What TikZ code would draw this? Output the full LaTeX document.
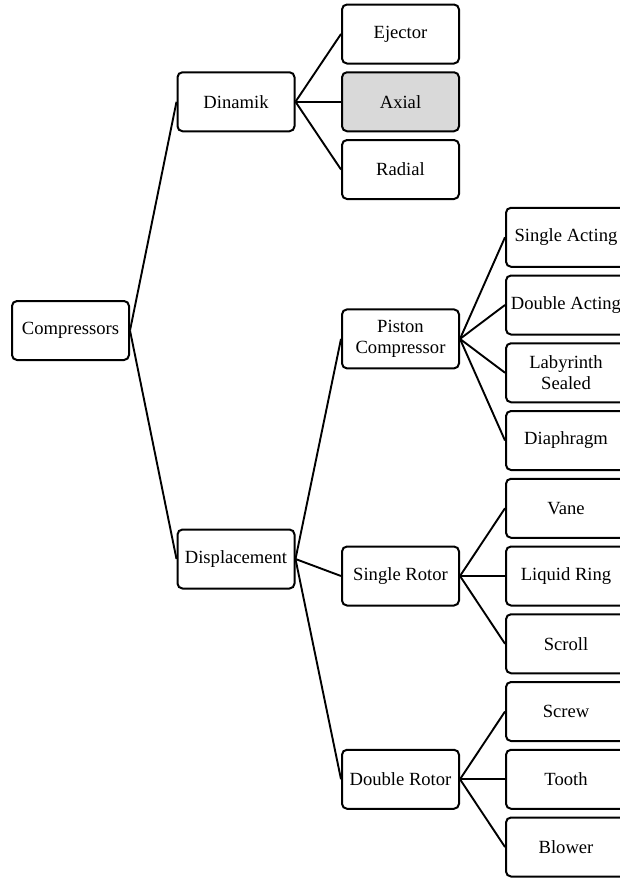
\documentclass[tikz,border=0pt]{standalone}
\usepackage{fontspec}
\setmainfont{Liberation Serif}
\usepackage{tikz}
\usetikzlibrary{positioning}

\tikzset{
	box/.style={draw,line width=1pt,rounded corners=2.5pt,fill=white,
		minimum width=58.5pt,minimum height=29.5pt,inner sep=1pt,align=center,
		font=\fontsize{9.3}{10.3}\selectfont},
	leaf/.style={box,minimum width=60pt},
	link/.style={line width=0.95pt}
}

\begin{document}
\begin{tikzpicture}[x=0.5pt,y=-0.5pt]
	\useasboundingbox (0,0) rectangle (620,878);
	% first levels
	\node[box] (comp) at (70.5,330.5) {Compressors};
	\node[box] (din) at (236,101.75) {Dinamik};
	\node[box] (disp) at (236,559) {Displacement};
	% dynamic types
	\node[box] (ejec) at (400.5,34) {Ejector};
	\node[box,fill=gray!30] (axial) at (400.5,101.75) {Axial};
	\node[box] (radial) at (400.5,169.5) {Radial};
	% displacement types
	\node[box] (piston) at (400.5,338.9) {Piston\\Compressor};
	\node[box] (srotor) at (400.5,576) {Single Rotor};
	\node[box] (drotor) at (400.5,779.25) {Double Rotor};
	% leaves
	\node[leaf] (sact) at (566,237.25) {Single Acting};
	\node[leaf] (dact) at (566,305) {Double Acting};
	\node[leaf] (laby) at (566,372.75) {Labyrinth\\Sealed};
	\node[leaf] (diaph) at (566,440.5) {Diaphragm};
	\node[leaf] (vane) at (566,508.25) {Vane};
	\node[leaf] (liq) at (566,576) {Liquid Ring};
	\node[leaf] (scroll) at (566,643.75) {Scroll};
	\node[leaf] (screw) at (566,711.5) {Screw};
	\node[leaf] (tooth) at (566,779.25) {Tooth};
	\node[leaf] (blower) at (566,847) {Blower};
	% connectors
	\foreach \a/\b in {comp/din,comp/disp,din/ejec,din/axial,din/radial,
		disp/piston,disp/srotor,disp/drotor,piston/sact,piston/dact,piston/laby,
		piston/diaph,srotor/vane,srotor/liq,srotor/scroll,drotor/screw,
		drotor/tooth,drotor/blower}
		\draw[link] (\a.east) -- (\b.west);
\end{tikzpicture}
\end{document}
